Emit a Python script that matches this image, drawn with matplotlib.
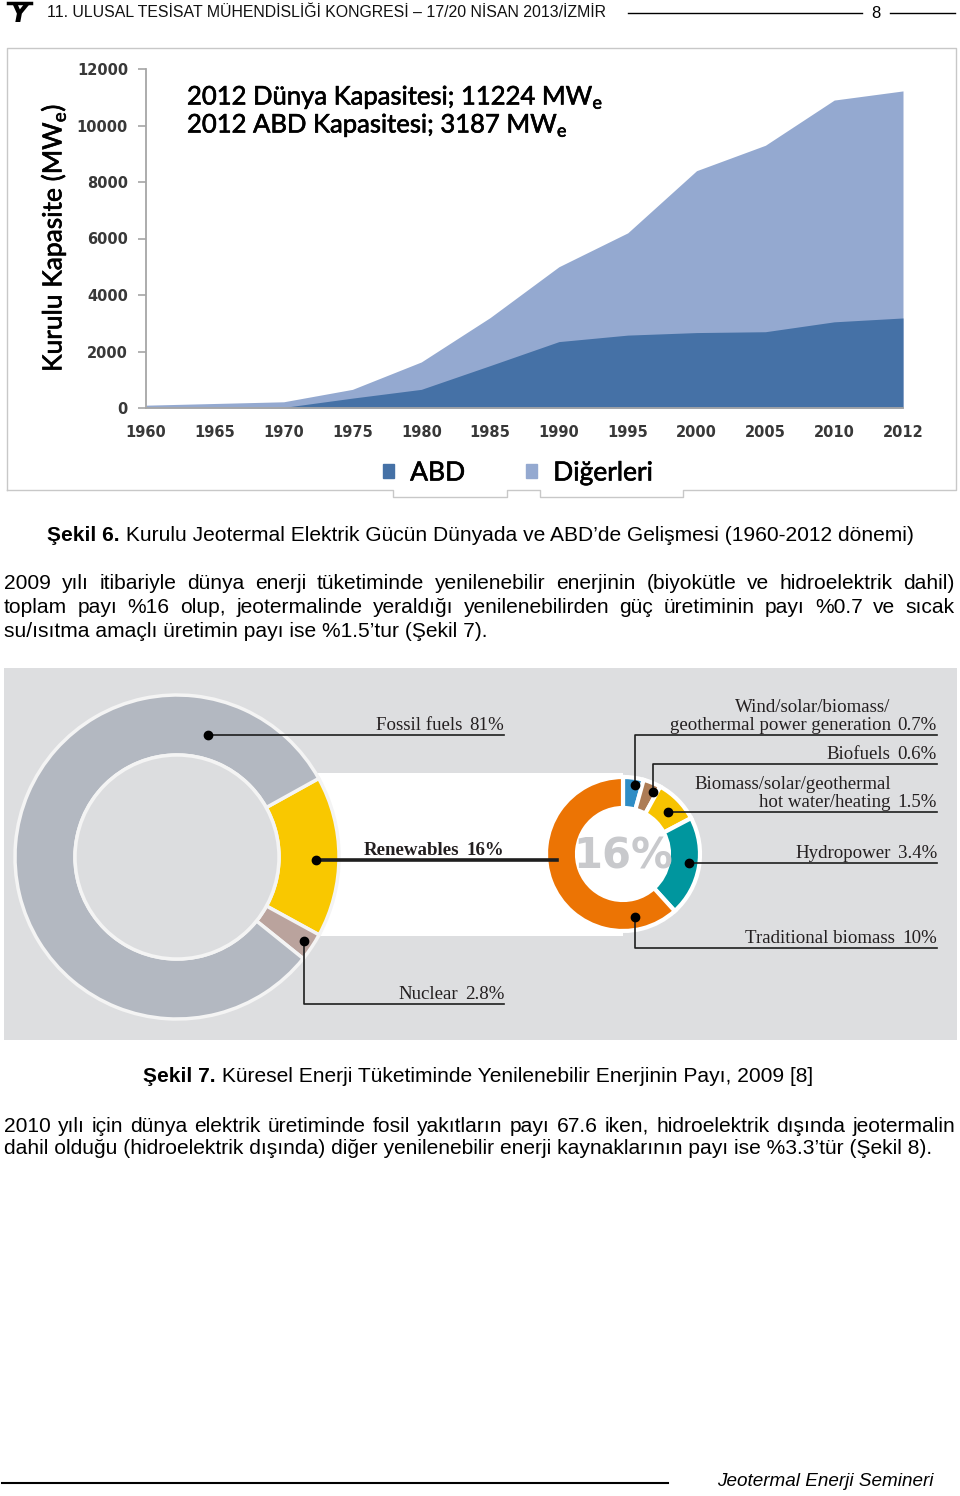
import matplotlib.pyplot as plt
import matplotlib.patheffects as pe
from matplotlib.patches import Rectangle, Circle, Patch

# Sekil 6 - kurulu jeotermal kapasite (MWe)
yillar = ['1960', '1965', '1970', '1975', '1980', '1985', '1990',
          '1995', '2000', '2005', '2010', '2012']
dunya = [100, 160, 220, 660, 1630, 3200, 5000, 6200, 8400, 9300, 10900, 11224]
abd = [0, 0, 20, 350, 660, 1500, 2350, 2580, 2670, 2700, 3050, 3187]
y_ticks = [0, 2000, 4000, 6000, 8000, 10000, 12000]

# Sekil 7 - kuresel enerji tuketimi payi, 2009 (%)
ana_etiket = ['Renewables', 'Nuclear', 'Fossil fuels']
ana_deger = [16, 2.8, 81]
yen_etiket = ['Wind/solar/biomass/\ngeothermal power generation', 'Biofuels',
              'Biomass/solar/geothermal\nhot water/heating', 'Hydropower',
              'Traditional biomass']
yen_deger = [0.7, 0.6, 1.5, 3.4, 10]

# colours
koyu, acik = '#4571a6', '#94a9d0'
ana_renk = ['#f9c800', '#baa39d', '#b3b8c1']
yen_renk = ['#2f8dc5', '#ad7c55', '#f7c300', '#00969e', '#ec7404']

SANS = ['Liberation Sans', 'DejaVu Sans']
NARROW = ['Liberation Sans Narrow', 'Liberation Sans', 'DejaVu Sans']
SERIF = ['Liberation Serif', 'DejaVu Serif']
CHART = ['Lato', 'DejaVu Sans']
plt.rcParams['font.family'] = SANS
kalin = [pe.withStroke(linewidth=0.45, foreground='black')]  # slightly heavier strokes

fig = plt.figure(figsize=(9.6, 14.96), dpi=100)
r = fig.canvas.get_renderer()

# whole page in pixel coordinates (y downwards)
page = fig.add_axes([0, 0, 1, 1])
page.axis('off')


def width(t):
    return t.get_window_extent(r).width


def fit(t, w):
    t.set_fontsize(t.get_fontsize() * w / width(t))


def justify(y, line, fs, x0=4, x1=955):
    words = line.split()
    texts = [page.text(0, y, s, fontsize=fs, va='center') for s in words]
    ws = [width(t) for t in texts]
    gap = (x1 - x0 - sum(ws)) / (len(words) - 1)
    x = x0
    for t, w in zip(texts, ws):
        t.set_x(x)
        x += w + gap


# ---------- header / footer ----------
page.text(19, 15, 'Y', fontsize=19, fontweight='bold', fontstyle='italic',
          ha='center', va='center', family='DejaVu Sans')
page.plot([8, 31], [3, 3], color='k', lw=2.5)
hdr = page.text(47, 12, '11. ULUSAL TESİSAT MÜHENDİSLİĞİ KONGRESİ – 17/20 NİSAN 2013/İZMİR',
                fontsize=11, family=NARROW, va='center', color='#111111')
fit(hdr, 559)
page.plot([628, 862], [13, 13], color='k', lw=1)
page.text(876, 13, '8', fontsize=12, family=NARROW, ha='center', va='center')
page.plot([890, 955], [13, 13], color='k', lw=1)

page.plot([2, 668], [1483, 1483], color='k', lw=1.5)
ftr = page.text(934, 1482, 'Jeotermal Enerji Semineri', fontsize=13, family=NARROW,
                fontstyle='italic', ha='right', va='center')
fit(ftr, 216)

# ---------- body text ----------
probe = page.text(4, 631, 'su/ısıtma amaçlı üretimin payı ise %1.5’tur (Şekil 7).',
                  fontsize=13, va='center')
fit(probe, 483)
fs = probe.get_fontsize()

b6 = page.text(47, 535, 'Şekil 6.', fontsize=fs, fontweight='bold', va='center')
page.annotate(' Kurulu Jeotermal Elektrik Gücün Dünyada ve ABD’de Gelişmesi (1960-2012 dönemi)',
              xy=(1, 0.5), xycoords=b6, va='center', fontsize=fs)
justify(583, '2009 yılı itibariyle dünya enerji tüketiminde yenilenebilir enerjinin '
             '(biyokütle ve hidroelektrik dahil)', fs)
justify(607, 'toplam payı %16 olup, jeotermalinde yeraldığı yenilenebilirden güç '
             'üretiminin payı %0.7 ve sıcak', fs)

b7 = page.text(143, 1077, 'Şekil 7.', fontsize=fs, fontweight='bold', va='center')
page.annotate(' Küresel Enerji Tüketiminde Yenilenebilir Enerjinin Payı, 2009 [8]',
              xy=(1, 0.5), xycoords=b7, va='center', fontsize=fs)
justify(1126, '2010 yılı için dünya elektrik üretiminde fosil yakıtların payı 67.6 iken, '
              'hidroelektrik dışında jeotermalin', fs)
page.text(4, 1149, 'dahil olduğu (hidroelektrik dışında) diğer yenilenebilir enerji '
                   'kaynaklarının payı ise %3.3’tür (Şekil 8).', fontsize=fs, va='center')

# ---------- Sekil 6: area chart ----------
page.plot([7, 7, 956, 956, 683, 683, 540, 540, 507, 507, 393, 393, 7],
          [490, 48, 48, 490, 490, 497, 497, 490, 490, 497, 497, 490, 490],
          color='#c8c8c8', lw=1)

ax = fig.add_axes([146 / 960, 1 - 408 / 1496, 757 / 960, 339 / 1496])
x = range(len(yillar))
ax.fill_between(x, 0, dunya, color=acik, lw=0)
ax.fill_between(x, 0, abd, color=koyu, lw=0)
ax.set_xlim(0, len(yillar) - 1)
ax.set_ylim(0, 12000)
ax.set_xticks(x, yillar)
ax.set_yticks(y_ticks)
ax.patch.set_alpha(0)
for s in ['top', 'right']:
    ax.spines[s].set_visible(False)
for s in ['left', 'bottom']:
    ax.spines[s].set_color('#a6a6a6')
    ax.spines[s].set_linewidth(1.3)
ax.tick_params(axis='y', length=6, width=1.2, color='#a6a6a6', pad=7)
ax.tick_params(axis='x', length=0, pad=12)
for lab in ax.get_xticklabels() + ax.get_yticklabels():
    lab.set_family('DejaVu Sans')
    lab.set_fontweight('bold')
    lab.set_fontsize(10.5)
    lab.set_color('#383838')

page.text(53, 238, 'Kurulu Kapasite (MW$_\\mathregular{e}$)', rotation=90, fontsize=19,
          family=CHART, ha='center', va='center', color='#000000', path_effects=kalin)
t1 = page.text(187, 97, f'2012 Dünya Kapasitesi; {dunya[-1]} MW$_\\mathregular{{e}}$',
               fontsize=19, family=CHART, va='center', color='#000000', path_effects=kalin)
fit(t1, 416)
page.text(187, 125, f'2012 ABD Kapasitesi; {abd[-1]} MW$_\\mathregular{{e}}$',
          fontsize=t1.get_fontsize(), family=CHART, va='center', color='#000000',
          path_effects=kalin)
leg = ax.legend(handles=[Patch(color=koyu, label='ABD'), Patch(color=acik, label='Diğerleri')],
                loc='center', bbox_to_anchor=(518 / 960, 1 - 473 / 1496),
                bbox_transform=fig.transFigure, ncol=2, frameon=False, handlelength=0.42,
                handleheight=0.42, handletextpad=0.62, columnspacing=2.3,
                prop={'family': CHART, 'size': 19})
for t in leg.get_texts():
    t.set_path_effects(kalin)

# ---------- Sekil 7: donut charts ----------
page.add_patch(Rectangle((4, 668), 953, 372, fc='#dddee0', ec='none', zorder=0))
page.add_patch(Rectangle((177, 773), 446, 163, fc='white', ec='none', zorder=0))

page.pie(ana_deger, colors=ana_renk, radius=162, center=(177, 857), startangle=-29,
         counterclock=True, frame=True,
         wedgeprops=dict(width=60, edgecolor='#f4f4f4', linewidth=2.5))
page.add_patch(Circle((177, 857), 102, fc='#dcdddf', ec='#f4f4f4', lw=2.5, zorder=3))

page.pie(yen_deger, colors=yen_renk, radius=77, center=(623, 854), startangle=-90,
         counterclock=True, frame=True,
         wedgeprops=dict(width=31, edgecolor='white', linewidth=3))
page.add_patch(Circle((623, 854), 46, fc='white', ec='none', zorder=3))
page.text(623, 856, f'{ana_deger[0]}%', fontsize=30, fontweight='bold', color='#c8c9cc',
          ha='center', va='center', family='DejaVu Sans', zorder=4)

# leader lines (page pixels), same order as the labels above
ana_cizgi = [[(316, 860), (557, 860)],
             [(304, 941), (304, 1004), (504, 1004)],
             [(208, 735), (504, 735)]]
yen_cizgi = [[(635, 785), (635, 735), (937, 735)],
             [(653, 792), (653, 764), (937, 764)],
             [(668, 812), (937, 812)],
             [(689, 863), (937, 863)],
             [(635, 917), (635, 948), (937, 948)]]


def callout(path, name, val, x_end, bold=False):
    xs, ys = zip(*path)
    page.plot(xs, ys, color='#1e1e1e', lw=2.6 if bold else 1.2, zorder=6)
    page.plot(xs[0], ys[0], 'o', color='k', ms=6, zorder=7)
    y = ys[-1] - 1
    kw = dict(fontsize=13.6, family=SERIF, va='bottom', ha='right', color='#231f20',
              fontweight='bold' if bold else 'normal', zorder=7, linespacing=1.1)
    v = page.text(x_end, y, f'{val:g}%', **kw)
    page.text(x_end - width(v) - 7, y, name, multialignment='right', **kw)


for i in range(len(ana_etiket)):
    callout(ana_cizgi[i], ana_etiket[i], ana_deger[i], 504, bold=(i == 0))
for i in range(len(yen_etiket)):
    callout(yen_cizgi[i], yen_etiket[i], yen_deger[i], 937)

page.set_aspect('auto')
page.set_xlim(0, 960)
page.set_ylim(1496, 0)

fig.savefig('out.png', dpi=100, facecolor='white')
